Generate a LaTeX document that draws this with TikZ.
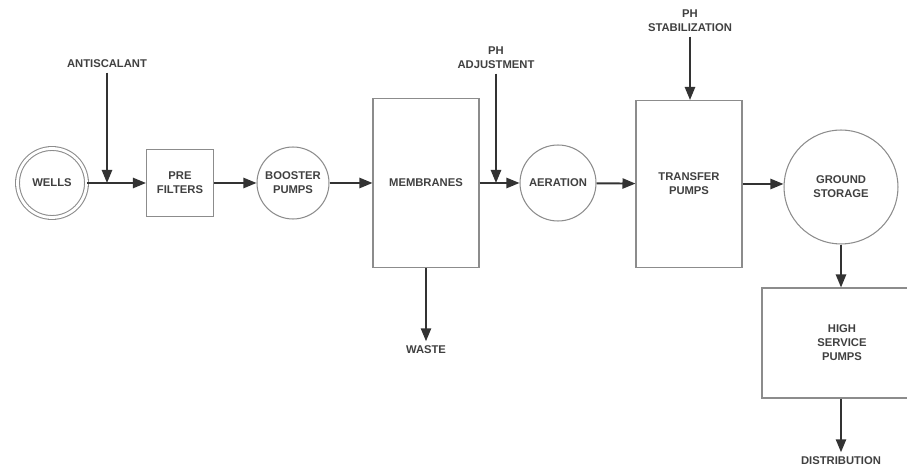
\documentclass[tikz,border=0pt]{standalone}
\usepackage{fontspec}
\setmainfont{Liberation Sans}
\usetikzlibrary{arrows.meta,shapes.geometric}

\tikzset{
  unit/.style={draw=black!45, line width=0.6pt, align=center, inner sep=0pt,
    text=black!75, font=\fontsize{6.4}{8}\selectfont\bfseries},
  tank/.style={unit, circle},
  box/.style={unit, rectangle},
  tag/.style={align=center, inner sep=2.5pt, text=black!75,
    font=\fontsize{6.4}{8}\selectfont\bfseries},
  flow/.style={draw=black!80, line width=1.1pt,
    -{Triangle[length=7.4pt,width=5.8pt]}}
}

\begin{document}
\begin{tikzpicture}[x=0.02cm, y=-0.02cm]
              \useasboundingbox (0,0) rectangle (907,469);

              \node[tank, double, double distance=1.6pt, minimum size=1.38cm] (wells) at (52,183) {WELLS};
              \node[box, minimum width=1.34cm, minimum height=1.34cm] (prefilters) at (180,183) {PRE\\FILTERS};
              \node[tank, minimum size=1.44cm] (booster) at (293,183) {BOOSTER\\PUMPS};
              \node[box, minimum width=2.12cm, minimum height=3.38cm] (membranes) at (426,183) {MEMBRANES};
              \node[tank, minimum size=1.52cm] (aeration) at (558,183) {AERATION};
              \node[box, minimum width=2.12cm, minimum height=3.34cm] (transfer) at (689,184) {TRANSFER\\PUMPS};
              \node[tank, minimum size=2.28cm] (storage) at (841,187) {GROUND\\STORAGE};
              \node[box, minimum width=3.2cm, minimum height=2.2cm] (highservice) at (842,343) {HIGH\\SERVICE\\PUMPS};

              \node[tag] (antiscalant) at (107,64) {ANTISCALANT};
              \node[tag] (phadjust) at (496,58) {PH\\ADJUSTMENT};
              \node[tag] (phstab) at (690,21) {PH\\STABILIZATION};
              \node[tag] (waste) at (426,350) {WASTE};
              \node[tag] (distribution) at (841,461) {DISTRIBUTION};

              \coordinate (j1) at (107,183);
              \coordinate (j2) at (496,183);

              \begin{scope}[flow]
                  \draw (wells) -- (prefilters);
                  \draw (antiscalant) -- (j1);
                  \draw (prefilters) -- (booster);
                  \draw (booster) -- (membranes);
                  \draw (membranes) -- (aeration);
                  \draw (phadjust) -- (j2);
                  \draw (membranes) -- (waste);
                  \draw (aeration) -- (transfer);
                  \draw (phstab) -- (phstab |- transfer.north);
                  \draw (transfer) -- (transfer -| storage.west);
                  \draw (storage) -- (storage |- highservice.north);
                  \draw (storage |- highservice.south) -- (distribution);
              \end{scope}

          \end{tikzpicture}
\end{document}
